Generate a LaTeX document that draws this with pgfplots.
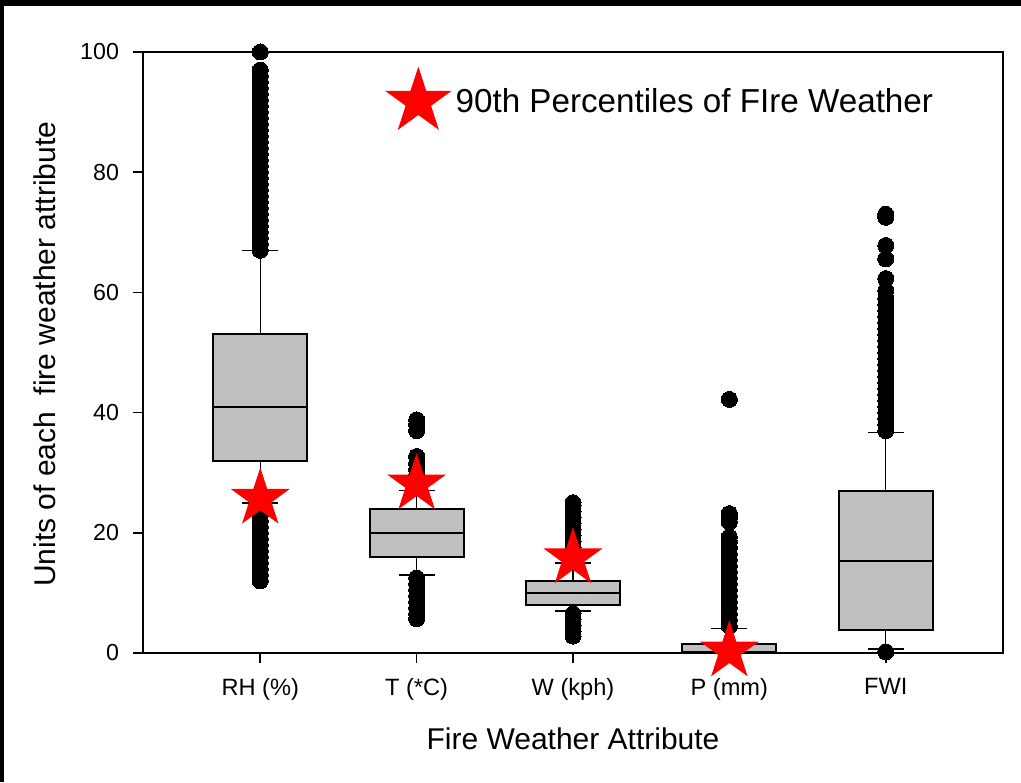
\documentclass[border=0pt]{standalone}
\usepackage{fontspec}
\setmainfont{Liberation Sans}
\usepackage{pgfplots}
\pgfplotsset{compat=1.18}
\usepgfplotslibrary{statistics}
\usetikzlibrary{shapes.geometric}

\definecolor{boxgray}{RGB}{192,192,192}
\definecolor{starred}{RGB}{255,0,0}

% filled five-pointed star used for the 90th percentiles
\pgfdeclareplotmark{fivestar}{%
  \pgfpathmoveto{\pgfpointpolar{90}{\pgfplotmarksize}}%
  \pgfpathlineto{\pgfpointpolar{126}{0.382\pgfplotmarksize}}%
  \pgfpathlineto{\pgfpointpolar{162}{\pgfplotmarksize}}%
  \pgfpathlineto{\pgfpointpolar{198}{0.382\pgfplotmarksize}}%
  \pgfpathlineto{\pgfpointpolar{234}{\pgfplotmarksize}}%
  \pgfpathlineto{\pgfpointpolar{270}{0.382\pgfplotmarksize}}%
  \pgfpathlineto{\pgfpointpolar{306}{\pgfplotmarksize}}%
  \pgfpathlineto{\pgfpointpolar{342}{0.382\pgfplotmarksize}}%
  \pgfpathlineto{\pgfpointpolar{18}{\pgfplotmarksize}}%
  \pgfpathlineto{\pgfpointpolar{54}{0.382\pgfplotmarksize}}%
  \pgfpathclose
  \pgfusepathqfill
}

\pgfplotsset{
  fwbox/.style={
    fill=boxgray, draw=black, line width=1pt,
    mark=*, mark size=4pt,
    mark options={fill=black, draw=black, line width=0pt},
    forget plot,
  },
}

\begin{document}
\begin{tikzpicture}
% page background with the dark band along the top and left edges
\fill[white] (-71.5pt,-64.5pt) rectangle (439pt,326.5pt);
\fill[black] (-71.5pt,323.5pt) rectangle (439pt,326.5pt);
\fill[black] (-71.5pt,-64.5pt) rectangle (-69.5pt,326.5pt);

\begin{axis}[
  at={(0,0)}, anchor=south west,
  scale only axis, width=430pt, height=300.5pt,
  xmin=0.25, xmax=5.75, ymin=0, ymax=100,
  clip=false,
  axis line style={line width=1pt},
  xtick={1,2,3,4,5},
  xticklabels={RH (\%), T (*C), W (kph), P (mm), FWI},
  ytick={0,20,40,60,80,100},
  tick align=outside, tick pos=left,
  major tick length=5pt,
  every tick/.style={black, line width=0.8pt},
  /pgf/number format/assume math mode=true,
  yticklabel style={font=\fontsize{11.6}{13}\selectfont, xshift=-3.5pt},
  xticklabel style={font=\fontsize{11.8}{13}\selectfont, yshift=-4pt},
  xlabel={Fire Weather Attribute},
  ylabel={Units of each\ \ fire weather attribute},
  label style={font=\fontsize{15}{18}\selectfont},
  xlabel style={at={(axis description cs:0.5,-0.123)}, anchor=north, inner sep=0pt},
  ylabel style={at={(axis description cs:-0.128,0.497)}, anchor=north, inner sep=0pt},
  boxplot/draw direction=y,
  boxplot/every whisker/.style={line width=0.75pt},
  boxplot/every median/.style={line width=1pt},
  legend style={
    at={(rel axis cs:0.281,0.923)}, anchor=west,
    draw=none, fill=none, inner sep=0pt,
    font=\fontsize{16.6}{19}\selectfont,
    /tikz/every even column/.append style={column sep=3pt},
  },
  legend cell align=left,
]

% RH (%)
\addplot[fwbox, boxplot prepared={draw position=1,
  lower whisker=25, lower quartile=32, median=41,
  upper quartile=53, upper whisker=67,
  box extend=0.6, whisker extend=0.23}]
  table[row sep=\\, y index=0] {y\\
  12\\13\\14\\15\\16\\17\\18\\19\\20\\21\\22\\23\\24\\
  67\\68\\69\\70\\71\\72\\73\\74\\75\\76\\77\\78\\79\\80\\81\\82\\
  83\\84\\85\\86\\87\\88\\89\\90\\91\\92\\93\\94\\95\\96\\97\\100\\};

% T (*C)
\addplot[fwbox, boxplot prepared={draw position=2,
  lower whisker=13, lower quartile=16, median=20,
  upper quartile=24, upper whisker=27,
  box extend=0.6, whisker extend=0.23}]
  table[row sep=\\, y index=0] {y\\
  5.7\\6.5\\7.5\\8.5\\9.5\\10.5\\11.5\\12.5\\
  27.5\\28.5\\29.5\\30.5\\31.5\\32.7\\37\\38\\38.8\\};

% W (kph)
\addplot[fwbox, boxplot prepared={draw position=3,
  lower whisker=7, lower quartile=8, median=10,
  upper quartile=12, upper whisker=15,
  box extend=0.6, whisker extend=0.23}]
  table[row sep=\\, y index=0] {y\\
  2.8\\3.5\\4.5\\5.5\\6.5\\
  15.5\\16.5\\17.5\\18.5\\19.5\\20.5\\21.5\\22.5\\23.5\\24.5\\25\\};

% P (mm)
\addplot[fwbox, boxplot prepared={draw position=4,
  lower whisker=0, lower quartile=0, median=0.1,
  upper quartile=1.5, upper whisker=4.1,
  box extend=0.6, whisker extend=0.23}]
  table[row sep=\\, y index=0] {y\\
  4.5\\5.5\\6.5\\7.5\\8.5\\9.5\\10.5\\11.5\\12.5\\13.5\\14.5\\15.5\\
  16.5\\17.5\\18.5\\19.3\\21.8\\22.6\\23.2\\42.2\\};

% FWI
\addplot[fwbox, boxplot prepared={draw position=5,
  lower whisker=0.7, lower quartile=3.8, median=15.3,
  upper quartile=27, upper whisker=36.7,
  box extend=0.6, whisker extend=0.23}]
  table[row sep=\\, y index=0] {y\\
  0.2\\
  37\\38\\39\\40\\41\\42\\43\\44\\45\\46\\47\\48\\49\\50\\51\\52\\
  53\\54\\55\\56\\57\\58\\59\\60.3\\62.3\\65.6\\67.8\\72.5\\73\\};

% 90th percentiles
\addplot[only marks, mark=fivestar, mark size=15.5pt, color=starred,
  legend image code/.code={%
    \node[star, star points=5, star point ratio=2.618, fill=starred,
      draw=none, minimum size=35pt, inner sep=0pt] at (0pt,0pt) {};}]
  coordinates {(1,25.7) (2,28.1) (3,15.8) (4,0.3)};
\addlegendentry{90th Percentiles of FIre Weather}

\end{axis}

\pgfresetboundingbox
\useasboundingbox (-71.5pt,-64.5pt) rectangle (439pt,326.5pt);
\end{tikzpicture}
\end{document}
